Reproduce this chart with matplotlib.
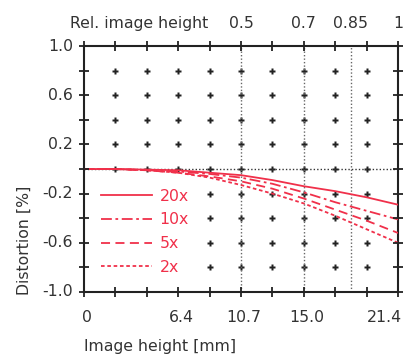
import matplotlib
matplotlib.use("Agg")
import matplotlib.pyplot as plt
from matplotlib.patches import Rectangle
import numpy as np

max_height = 21.4
rel_height = [0.0, 0.1, 0.2, 0.3, 0.4, 0.5, 0.6, 0.7, 0.8, 0.9, 1.0]
series_labels = ["20x", "10x", "5x", "2x"]
dist_20x = [0.0, 0.0, -0.005, -0.01, -0.03, -0.05, -0.09, -0.14, -0.18, -0.23, -0.29]
dist_10x = [0.0, 0.0, -0.01, -0.02, -0.04, -0.07, -0.12, -0.19, -0.27, -0.34, -0.41]
dist_5x = [0.0, 0.0, -0.01, -0.03, -0.06, -0.10, -0.16, -0.24, -0.33, -0.42, -0.52]
dist_2x = [0.0, 0.0, -0.01, -0.03, -0.07, -0.13, -0.20, -0.28, -0.38, -0.49, -0.60]
x_tick_labels = ["0", "6.4", "10.7", "15.0", "21.4"]
x_tick_rel = [0.0, 0.3, 0.5, 0.7, 1.0]
top_tick_rel = [0.5, 0.7, 0.85, 1.0]
top_tick_labels = ["0.5", "0.7", "0.85", "1"]
y_tick_vals = [1.0, 0.6, 0.2, -0.2, -0.6, -1.0]

FS = 11.3
TXT = '#333333'
plt.rcParams['font.family'] = ['DejaVu Sans']
fig = plt.figure(figsize=(4.12, 3.6), dpi=100)
ax = fig.add_axes([0.204, 0.189, 0.762, 0.683])

x_mm = np.array(rel_height) * max_height
red = '#f0304a'

# grid markers
gx = np.array(rel_height[1:-1]) * max_height
gy = np.arange(-0.8, 0.81, 0.2)
GX, GY = np.meshgrid(gx, gy)
ax.plot(GX.ravel(), GY.ravel(), linestyle='none', marker='P', ms=4.8,
        color='#222222', mec='none', zorder=1)

for r in [0.5, 0.7, 0.85]:
    ax.axvline(r * max_height, color='#666666', ls=(0, (1, 1.5)), lw=1.0, zorder=1)
ax.axhline(0, color='#333333', ls=(0, (1, 1.5)), lw=1.0, zorder=1)

# white area behind legend
ax.add_patch(Rectangle((0.03, 0.065), 0.335, 0.37, transform=ax.transAxes,
                       facecolor='white', edgecolor='none', zorder=2))

styles = ['-', (0, (6, 2, 1.5, 2)), (0, (5, 3)), (0, (2, 1.5))]
for lab, vals, st in zip(series_labels, [dist_20x, dist_10x, dist_5x, dist_2x], styles):
    ax.plot(x_mm, vals, color=red, ls=st, lw=1.3, label=lab, zorder=3)

ax.set_xlim(0, max_height)
ax.set_ylim(-1.0, 1.0)
ax.set_xticks([])
ax.set_yticks([])

# explicit tick marks crossing the frame
xt = np.array(rel_height) * max_height
yt = np.arange(-1.0, 1.01, 0.2)
for yy in (-1.0, 1.0):
    ax.plot(xt, np.full_like(xt, yy), ls='none', marker='|', ms=7, mew=1.3,
            color='#222222', clip_on=False, zorder=5)
for xx in (0.0, max_height):
    ax.plot(np.full_like(yt, xx), yt, ls='none', marker='_', ms=7, mew=1.3,
            color='#222222', clip_on=False, zorder=5)

for i, (t, lab) in enumerate(zip(x_tick_rel, x_tick_labels)):
    if i == len(x_tick_rel) - 1:
        ax.text(t + 0.013, -0.105, lab, transform=ax.transAxes,
                ha='right', va='center', fontsize=FS, color=TXT)
    else:
        ax.text(t + 0.01, -0.105, lab, transform=ax.transAxes,
                ha='center', va='center', fontsize=FS, color=TXT)
for v in y_tick_vals:
    ax.text(-0.035, (v + 1.0) / 2.0, f"{v:.1f}", transform=ax.transAxes,
            ha='right', va='center', fontsize=FS, color=TXT)
for t, lab in zip(top_tick_rel, top_tick_labels):
    ax.text(t, 1.092, lab, transform=ax.transAxes,
            ha='center', va='center', fontsize=FS, color=TXT)
ax.text(0.395, 1.092, "Rel. image height", transform=ax.transAxes, ha='right',
        va='center', fontsize=FS, color=TXT)

for s in ax.spines.values():
    s.set_linewidth(1.5)
    s.set_color('#222222')

ax.set_xlabel("Image height [mm]", fontsize=FS, color=TXT, ha='left', va='center')
ax.xaxis.set_label_coords(0.0, -0.22)
ax.set_ylabel("Distortion [%]", fontsize=FS, color=TXT, va='center')
ax.yaxis.set_label_coords(-0.19, 0.21)

leg = ax.legend(loc='center left', bbox_to_anchor=(0.02, 0.245), frameon=False,
                fontsize=FS, handlelength=3.2, labelspacing=0.55, borderpad=0.2,
                handletextpad=0.5)
for t in leg.get_texts():
    t.set_color(red)

fig.savefig("out.png", dpi=100, facecolor='white')
